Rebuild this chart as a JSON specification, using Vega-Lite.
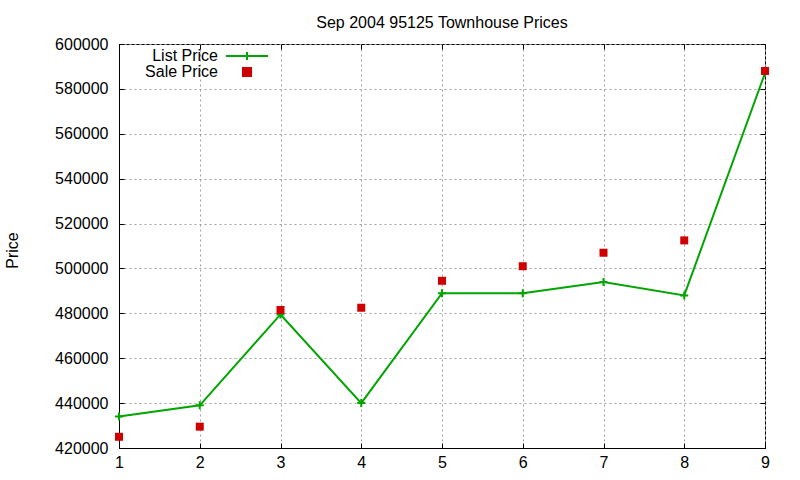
{
  "$schema": "https://vega.github.io/schema/vega-lite/v6.json",
  "width": 646,
  "height": 404,
  "autosize": {"type": "none"},
  "padding": {"left": 119, "top": 44, "right": 35, "bottom": 32},
  "background": "white",
  "title": {"text": "Sep 2004 95125 Townhouse Prices", "fontSize": 16, "font": "Liberation Sans", "fontWeight": "normal", "anchor": "middle", "baseline": "alphabetic", "offset": 17, "dy": 24.5, "color": "black"},
  "config": {
    "font": "Liberation Sans",
    "view": {"stroke": "black", "strokeWidth": 1},
    "axis": {"labelFont": "Liberation Sans", "labelFontSize": 16, "labelColor": "black", "tickColor": "black", "domainColor": "black", "tickSize": -5, "gridColor": "#a0a0a0", "gridDash": [2, 3], "gridOpacity": 1, "gridWidth": 1, "titleFont": "Liberation Sans", "titleFontSize": 16, "titleFontWeight": "normal", "titleColor": "black"},
    "legend": {"labelFont": "Liberation Sans", "labelFontSize": 16, "labelColor": "black"}
  },
  "data": {"values": [
    {"x": 1, "series": "List Price", "price": 434000},
    {"x": 2, "series": "List Price", "price": 439000},
    {"x": 3, "series": "List Price", "price": 479500},
    {"x": 4, "series": "List Price", "price": 440000},
    {"x": 5, "series": "List Price", "price": 489000},
    {"x": 6, "series": "List Price", "price": 489000},
    {"x": 7, "series": "List Price", "price": 494000},
    {"x": 8, "series": "List Price", "price": 488000},
    {"x": 9, "series": "List Price", "price": 587000},
    {"x": 1, "series": "Sale Price", "price": 425000},
    {"x": 2, "series": "Sale Price", "price": 429500},
    {"x": 3, "series": "Sale Price", "price": 481500},
    {"x": 4, "series": "Sale Price", "price": 482500},
    {"x": 5, "series": "Sale Price", "price": 494500},
    {"x": 6, "series": "Sale Price", "price": 501000},
    {"x": 7, "series": "Sale Price", "price": 507000},
    {"x": 8, "series": "Sale Price", "price": 512500},
    {"x": 9, "series": "Sale Price", "price": 588000}
  ]},
  "layer": [
    {
      "transform": [{"filter": "datum.series === 'List Price'"}],
      "mark": {"type": "line", "strokeWidth": 2},
      "encoding": {
        "x": {"field": "x", "type": "quantitative", "scale": {"domain": [1, 9], "nice": false, "zero": false},
              "axis": {"orient": "bottom", "values": [1,2,3,4,5,6,7,8,9], "format": "d", "grid": true, "title": null, "labelPadding": 11, "labelFlush": false}},
        "y": {"field": "price", "type": "quantitative", "scale": {"domain": [420000, 600000], "nice": false, "zero": false},
              "axis": {"orient": "left", "values": [420000,440000,460000,480000,500000,520000,540000,560000,580000,600000], "format": "d", "grid": true, "title": "Price", "titleX": -107, "titleY": 206, "titleAngle": -90, "titleAlign": "center", "titleBaseline": "middle", "labelPadding": 16}},
        "color": {"field": "series", "type": "nominal", "title": null,
                  "scale": {"domain": ["List Price", "Sale Price"], "range": ["#00a500", "#d00000"]},
                  "legend": {"orient": "none", "legendX": 120, "legendY": 4, "labelAlign": "right", "labelOffset": -37, "rowPadding": 0, "symbolSize": 64, "symbolStrokeWidth": 2,
                    "encode": {"symbols": {"update": {
                      "stroke": {"signal": "datum.value === 'List Price' ? '#00a500' : 'transparent'"},
                      "fill": {"signal": "datum.value === 'List Price' ? 'transparent' : '#d00000'"},
                      "strokeWidth": {"value": 2},
                      "opacity": {"value": 1}
                    }}}}}
      }
    },
    {
      "transform": [{"filter": "datum.series === 'List Price'"}],
      "mark": {"type": "point", "shape": "M-1,0H1M0,-1V1", "filled": false, "strokeWidth": 2, "size": 64, "opacity": 1},
      "encoding": {
        "x": {"field": "x", "type": "quantitative", "axis": {"orient": "top", "values": [1,2,3,4,5,6,7,8,9], "labels": false, "grid": false, "title": null, "domain": false}},
        "y": {"field": "price", "type": "quantitative", "axis": {"orient": "right", "values": [420000,440000,460000,480000,500000,520000,540000,560000,580000,600000], "labels": false, "grid": false, "title": null, "domain": false}},
        "color": {"field": "series", "type": "nominal", "title": null}
      }
    },
    {
      "transform": [{"filter": "datum.series === 'Sale Price'"}],
      "mark": {"type": "point", "filled": true, "size": 64, "opacity": 1},
      "encoding": {
        "x": {"field": "x", "type": "quantitative", "axis": null},
        "y": {"field": "price", "type": "quantitative", "axis": null},
        "color": {"field": "series", "type": "nominal", "title": null},
        "shape": {"field": "series", "type": "nominal", "title": null,
                  "scale": {"domain": ["List Price", "Sale Price"], "range": ["M-5.25,0H5.25M0,-1V1", "square"]}}
      }
    }
  ],
  "resolve": {"axis": {"x": "independent", "y": "independent"}}
}
